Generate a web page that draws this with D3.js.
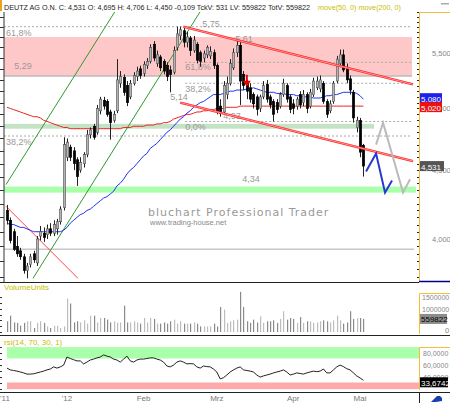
<!DOCTYPE html>
<html>
<head>
<meta charset="utf-8">
<script src="https://cdn.jsdelivr.net/npm/d3@7"></script>
<style>
body { margin: 0; background: #fff; }
svg { display: block; font-family: "Liberation Sans", Arial, sans-serif; }
</style>
</head>
<body>
<div id="chart"></div>
<script>
// daily candles, Deutz AG, late Nov 2011 .. early May 2012
var opens = [4.20,4.13,4.05,3.95,3.92,3.88,3.79,3.83,3.90,3.84,4.02,4.04,4.03,4.07,4.04,4.07,4.12,4.22,4.60,4.68,
  4.65,4.58,4.50,4.55,4.62,4.78,4.85,4.80,4.98,5.07,5.06,4.97,4.90,4.98,5.22,5.27,5.20,5.10,5.22,5.28,
  5.35,5.31,5.38,5.42,5.58,5.40,5.46,5.42,5.38,5.34,5.32,5.55,5.66,5.71,5.60,5.64,5.52,5.58,5.50,5.45,
  5.48,5.47,5.50,5.38,5.02,4.97,5.12,5.22,5.36,5.50,5.57,5.30,5.22,5.18,5.12,5.10,5.00,5.10,5.21,5.10,
  5.06,5.05,5.02,5.12,5.20,5.10,5.04,5.02,5.12,5.05,5.12,5.02,5.12,5.18,5.17,5.22,5.06,4.98,5.06,5.24,
  5.40,5.48,5.36,5.26,5.14,4.84,4.90,4.695];
var highs = [4.24,4.15,4.07,4.02,3.94,3.90,3.84,3.90,3.92,4.02,4.09,4.08,4.10,4.11,4.13,4.14,4.23,4.76,4.75,4.70,
  4.68,4.60,4.60,4.64,4.82,4.84,4.87,5.03,5.10,5.10,5.08,4.99,4.98,5.44,5.33,5.30,5.24,5.25,5.32,5.37,
  5.38,5.42,5.45,5.58,5.61,5.52,5.48,5.44,5.41,5.38,5.56,5.75,5.75,5.74,5.70,5.66,5.66,5.60,5.52,5.52,
  5.57,5.56,5.53,5.40,5.08,5.24,5.28,5.44,5.54,5.61,5.60,5.33,5.25,5.22,5.14,5.12,5.12,5.24,5.25,5.12,
  5.08,5.08,5.14,5.26,5.22,5.12,5.08,5.10,5.15,5.16,5.14,5.17,5.27,5.28,5.29,5.24,5.08,5.07,5.24,5.47,
  5.53,5.53,5.40,5.29,5.16,4.93,4.92,4.706];
var lows = [4.10,3.97,3.92,3.88,3.86,3.77,3.74,3.81,3.84,3.82,3.99,3.98,4.00,4.02,4.02,4.03,4.10,4.20,4.57,4.57,
  4.50,4.38,4.48,4.52,4.60,4.75,4.74,4.78,4.95,4.99,4.93,4.74,4.88,4.96,5.18,5.11,5.02,5.08,5.20,5.24,
  5.26,5.28,5.35,5.40,5.42,5.37,5.33,5.30,5.24,5.14,5.30,5.52,5.62,5.55,5.55,5.47,5.50,5.40,5.37,5.41,
  5.45,5.44,5.35,4.95,4.93,4.95,5.08,5.20,5.34,5.46,5.03,5.16,5.08,5.05,5.00,4.94,4.97,5.08,5.05,5.00,
  4.89,4.96,5.00,5.10,5.05,4.96,4.95,4.99,5.00,5.02,4.96,5.00,5.10,5.16,5.14,5.04,4.92,4.96,5.04,5.22,
  5.38,5.32,5.22,5.12,4.88,4.80,4.60,4.450];
var closes = [4.13,3.99,3.93,3.90,3.88,3.79,3.82,3.88,3.86,4.00,4.05,4.01,4.07,4.04,4.10,4.12,4.21,4.70,4.72,4.60,
  4.55,4.45,4.56,4.62,4.78,4.82,4.76,5.00,5.08,5.02,4.95,4.88,4.95,5.25,5.28,5.14,5.05,5.22,5.29,5.33,
  5.29,5.39,5.42,5.55,5.45,5.48,5.36,5.33,5.28,5.30,5.52,5.68,5.72,5.60,5.65,5.52,5.62,5.43,5.42,5.49,
  5.55,5.51,5.38,4.98,4.96,5.20,5.22,5.40,5.50,5.57,5.24,5.20,5.15,5.08,5.04,4.99,5.10,5.20,5.08,5.03,
  4.95,4.99,5.12,5.22,5.08,4.99,5.00,5.08,5.03,5.12,5.00,5.14,5.24,5.24,5.25,5.06,4.95,5.04,5.22,5.44,
  5.48,5.34,5.25,5.16,4.92,4.90,4.64,4.531];
// volume in millions of units
var volumes = [0.46,0.70,0.41,0.39,0.27,0.39,0.46,0.46,0.17,0.39,0.46,0.39,0.24,0.17,0.27,0.27,0.17,0.24,1.43,1.22,
  0.41,0.46,0.41,0.50,0.36,0.70,0.70,0.41,0.60,0.60,0.53,0.41,0.46,0.41,0.41,1.13,0.41,0.41,0.46,0.41,
  0.36,0.60,0.41,0.60,0.56,0.36,0.36,0.41,0.36,0.46,0.53,0.36,0.46,0.36,0.36,0.36,0.41,0.36,0.24,0.24,
  0.24,0.24,0.36,0.24,1.07,0.96,0.39,0.46,0.50,0.53,1.72,1.07,0.46,0.39,0.53,0.41,0.67,0.39,0.46,0.46,
  0.50,0.39,0.56,0.89,0.53,0.60,0.56,0.39,0.64,0.39,0.46,0.46,0.39,0.41,0.46,0.50,0.46,0.41,0.50,0.70,
  0.50,0.36,0.41,0.89,0.56,0.60,0.60,0.56];
var rsiValues = [54,51,50,49,47.5,46,44,44,44.5,46,47.5,49,51,52.5,56,54,56,59,72.5,70,
  68,66,66,61,64,67.5,69,71,72.5,76,74,72.5,69,67.5,64,69,74,66,64,67.5,
  69,69,70,71,71,69,67.5,64,57.5,56,59,64,66,64,61,61.5,61,56,54,57.5,
  56.5,56,52.5,47.5,36,38,42.5,47.5,51,54,56,51,50,49,47.5,42.5,39,41,42.5,44,
  46,47.5,49,51,47.5,42.5,44,46,45,44,46,47.5,49,48,49,52.5,46,46,51,56,
  59,56.5,53,51,46,41,37.5,33.67];
var ma50 = [4.11,4.10,4.10,4.09,4.08,4.08,4.07,4.06,4.05,4.05,4.05,4.05,4.05,4.05,4.05,4.05,4.05,4.06,4.08,4.11,
  4.13,4.15,4.17,4.18,4.20,4.21,4.23,4.25,4.27,4.29,4.30,4.32,4.34,4.38,4.40,4.43,4.47,4.50,4.52,4.55,
  4.58,4.61,4.63,4.67,4.69,4.71,4.74,4.77,4.80,4.82,4.85,4.88,4.91,4.93,4.96,4.98,5.01,5.03,5.05,5.06,
  5.08,5.10,5.12,5.12,5.12,5.13,5.14,5.15,5.15,5.16,5.16,5.16,5.17,5.17,5.18,5.17,5.16,5.15,5.14,5.14,
  5.14,5.13,5.13,5.13,5.12,5.12,5.12,5.11,5.11,5.10,5.10,5.10,5.09,5.09,5.09,5.10,5.11,5.11,5.12,5.12,
  5.13,5.14,5.14,5.14,5.14,5.13,5.11,5.08];
var ma200 = [5.01,5.00,4.99,4.98,4.97,4.96,4.95,4.94,4.93,4.93,4.92,4.90,4.89,4.88,4.87,4.86,4.85,4.84,4.84,4.83,
  4.83,4.83,4.83,4.83,4.83,4.83,4.83,4.83,4.83,4.83,4.83,4.83,4.83,4.83,4.83,4.84,4.84,4.84,4.85,4.85,
  4.85,4.85,4.86,4.86,4.86,4.87,4.87,4.88,4.88,4.89,4.91,4.92,4.93,4.94,4.95,4.95,4.96,4.97,4.97,4.98,
  4.98,4.99,4.99,5.00,5.00,5.00,5.01,5.01,5.01,5.01,5.02,5.02,5.02,5.02,5.02,5.02,5.02,5.02,5.02,5.02,
  5.02,5.02,5.02,5.02,5.02,5.02,5.02,5.02,5.02,5.02,5.02,5.02,5.02,5.02,5.02,5.02,5.02,5.02,5.02,5.02,
  5.02,5.02,5.02,5.02,5.02,5.02,5.02,5.02];

var monthPos = [-0.6, 18, 41, 63, 85.9, 106];
var monthLabels = ["'11", "'12", "Feb", "Mrz", "Apr", "Mai"];
var priceTicks = [4.0, 4.5, 5.0, 5.5];
var volTicks = [1.5, 1.0];
var rsiTicks = [80, 60, 40];

// drawn tools: [bar index, price] anchors
var greenLine1 = [[-0.3, 4.39], [32.4, 5.90]];
var greenLine2 = [[7.8, 3.74], [58, 5.90]];
var redFall = [[-0.3, 4.23], [21.3, 3.74]];
var chanTop = [[52.9, 5.75], [121.9, 5.21]];
var chanBot = [[52.0, 5.05], [121.9, 4.57]];
var grayZig = [[110.8, 4.70], [112.9, 4.88], [118.9, 4.33], [121.0, 4.43]];
var blueZig = [[107.8, 4.49], [110.8, 4.63], [113.5, 4.33], [115.6, 4.42]];

var width = 450, height = 403;
var svg = d3.select('#chart').append('svg')
    .attr('width', width)
    .attr('height', height);

// scales
var x = d3.scaleLinear().domain([0, 107]).range([7, 363.4]);
var y = d3.scaleLog().domain([4, 5.5]).range([239, 52.7]);
var yVol = d3.scaleLinear().domain([0, 1.5]).range([332, 297]);
var yRsi = d3.scaleLinear().domain([60, 80]).range([364.5, 352.5]);

var left = 4, right = 419;
var mainTop = 12, mainBot = 282;

svg.append('clipPath').attr('id', 'mainClip')
    .append('rect').attr('x', left).attr('y', mainTop)
    .attr('width', right - left).attr('height', mainBot - mainTop);

var main = svg.append('g').attr('clip-path', 'url(#mainClip)');

// bands
function band(lo, hi, i0, i1, fill) {
    main.append('rect')
        .attr('x', x(i0)).attr('width', x(i1) - x(i0))
        .attr('y', y(hi)).attr('height', y(lo) - y(hi))
        .attr('fill', fill);
}
band(5.285, 5.65, -0.9, 121.6, '#ffc8c8');
band(4.83, 4.87, -0.9, 110.2, '#c4e2c4');
band(4.33, 4.375, -0.9, 122.8, '#aaffaa');

function hline(p, i0, i1, color, w, dash) {
    main.append('line')
        .attr('x1', x(i0)).attr('x2', x(i1))
        .attr('y1', y(p)).attr('y2', y(p))
        .attr('stroke', color).attr('stroke-width', w)
        .attr('stroke-dasharray', dash || null);
}
hline(5.285, -0.9, 121.6, '#bbbbbb', 1.5);
hline(3.93, -0.9, 122.2, '#c8c8c8', 1.5);
hline(5.75, -0.9, 121.6, '#aaaaaa', 1, '2,2');
hline(4.77, -0.9, 121.6, '#aaaaaa', 1, '2,2');
hline(5.41, 53.5, 121.6, '#aaaaaa', 1, '2,2');
hline(5.22, 53.5, 121.6, '#aaaaaa', 1, '2,2');
hline(4.89, 53.5, 121.6, '#aaaaaa', 1, '2,2');

// level labels
var levelLabels = [
    { t: '61,8%', i: -0.3, p: 5.75, dy: 9 },
    { t: '38,2%', i: -0.3, p: 4.77, dy: 9 },
    { t: '5,29', i: 2.2, p: 5.285, dy: -7 },
    { t: '5,75', i: 58.6, p: 5.75, dy: 0 },
    { t: '61,8%', i: 53.5, p: 5.41, dy: 8 },
    { t: '38,2%', i: 53.5, p: 5.22, dy: 9 },
    { t: '0,0%', i: 53.5, p: 4.89, dy: 9 },
    { t: '5,61', i: 68.5, p: 5.61, dy: 1 },
    { t: '5,14', i: 49, p: 5.14, dy: 8 },
    { t: '4,93', i: 64.9, p: 4.93, dy: 2 },
    { t: '4,34', i: 70.6, p: 4.34, dy: -9 }
];
main.selectAll('text.lvl')
    .data(levelLabels)
    .enter()
    .append('text')
    .attr('class', 'lvl')
    .attr('x', function (d) { return x(d.i); })
    .attr('y', function (d) { return y(d.p) + d.dy; })
    .attr('font-size', 9)
    .attr('fill', '#999')
    .text(function (d) { return d.t; });

// watermark
svg.append('text').attr('x', 148).attr('y', 216)
    .attr('font-size', 11).attr('fill', '#999').attr('letter-spacing', 1)
    .attr('font-family', '"DejaVu Sans", sans-serif')
    .text('bluchart Professional Trader');
svg.append('text').attr('x', 150).attr('y', 225)
    .attr('font-size', 7.5).attr('fill', '#888')
    .text('www.trading-house.net');

var lineGen = d3.line()
    .x(function (d) { return x(d[0]); })
    .y(function (d) { return y(d[1]); });

// green channel
[greenLine1, greenLine2].forEach(function (l) {
    main.append('path').attr('d', lineGen(l))
        .attr('fill', 'none').attr('stroke', '#2e9a2e').attr('stroke-width', 1);
});
main.append('path').attr('d', lineGen(redFall))
    .attr('fill', 'none').attr('stroke', '#ff4444').attr('stroke-width', 1);

// moving averages
var maLine = d3.line()
    .x(function (d, i) { return x(i); })
    .y(function (d) { return y(d); });
main.append('path').attr('d', maLine(ma200))
    .attr('fill', 'none').attr('stroke', '#ee2222').attr('stroke-width', 1);
main.append('path').attr('d', maLine(ma50))
    .attr('fill', 'none').attr('stroke', '#2233ee').attr('stroke-width', 1);

// candles
var bars = d3.range(opens.length).map(function (i) {
    return { i: i, o: opens[i], h: highs[i], l: lows[i], c: closes[i], v: volumes[i] };
});
var bw = 2.4;
var cg = main.append('g');
cg.selectAll('line.wick')
    .data(bars)
    .enter()
    .append('line')
    .attr('class', 'wick')
    .attr('x1', function (d) { return Math.round(x(d.i)) + 0.5; })
    .attr('x2', function (d) { return Math.round(x(d.i)) + 0.5; })
    .attr('y1', function (d) { return y(d.h); })
    .attr('y2', function (d) { return y(d.l); })
    .attr('stroke', '#222').attr('stroke-width', 1);
cg.selectAll('rect.body')
    .data(bars)
    .enter()
    .append('rect')
    .attr('class', 'body')
    .attr('x', function (d) { return Math.round(x(d.i)) + 0.5 - bw / 2; })
    .attr('width', bw)
    .attr('y', function (d) { return y(Math.max(d.o, d.c)); })
    .attr('height', function (d) { return Math.max(1, Math.abs(y(d.o) - y(d.c))); })
    .attr('fill', function (d) { return d.c >= d.o ? '#b4b4b4' : '#000'; })
    .attr('stroke', function (d) { return d.c >= d.o ? '#555' : '#000'; })
    .attr('stroke-width', 0.6);

// red channel (double lines)
[chanTop, chanBot].forEach(function (l) {
    main.append('path').attr('d', lineGen(l))
        .attr('fill', 'none').attr('stroke', '#ff2020').attr('stroke-width', 2.3);
    main.append('path').attr('d', lineGen(l))
        .attr('fill', 'none').attr('stroke', '#ffe0e0').attr('stroke-width', 0.6);
});

// projections
main.append('path').attr('d', lineGen(grayZig))
    .attr('fill', 'none').attr('stroke', '#bbbbbb').attr('stroke-width', 2);
main.append('path').attr('d', lineGen(blueZig))
    .attr('fill', 'none').attr('stroke', '#2838d0').attr('stroke-width', 2);

// sell arrow
var ax = x(72), ay = y(5.19);
main.append('path')
    .attr('d', 'M' + (ax - 1) + ',' + (ay - 12) + 'h2v6h3l-4,6l-4,-6h3z')
    .attr('fill', '#ee0000');

// left axis
svg.append('line').attr('x1', left).attr('x2', left).attr('y1', mainTop).attr('y2', mainBot)
    .attr('stroke', '#333').attr('stroke-width', 1);
var leftTicks = d3.range(3.75, 5.95, 0.1);
svg.selectAll('line.ltick')
    .data(leftTicks)
    .enter()
    .append('line')
    .attr('class', 'ltick')
    .attr('x1', 0).attr('x2', left)
    .attr('y1', function (d) { return Math.round(y(d)) + 0.5; })
    .attr('y2', function (d) { return Math.round(y(d)) + 0.5; })
    .attr('stroke', '#333');

// right axis (main)
var axisCol = '#f2bd3a';
svg.append('line').attr('x1', 419.5).attr('x2', 419.5).attr('y1', mainTop).attr('y2', mainBot)
    .attr('stroke', axisCol);
svg.append('line').attr('x1', 419.5).attr('x2', 450).attr('y1', mainTop + 0.5).attr('y2', mainTop + 0.5)
    .attr('stroke', axisCol);
svg.append('line').attr('x1', 419).attr('x2', 450).attr('y1', 281.5).attr('y2', 281.5)
    .attr('stroke', '#000080').attr('stroke-width', 1.5);
var rTicks = d3.range(3.75, 5.95, 0.05);
svg.selectAll('line.rtick')
    .data(rTicks)
    .enter()
    .append('line')
    .attr('class', 'rtick')
    .attr('x1', 417).attr('x2', 419)
    .attr('y1', function (d) { return Math.round(y(d)) + 0.5; })
    .attr('y2', function (d) { return Math.round(y(d)) + 0.5; })
    .attr('stroke', '#222');
svg.selectAll('text.pt')
    .data(priceTicks)
    .enter()
    .append('text')
    .attr('class', 'pt')
    .attr('x', 432)
    .attr('y', function (d) { return y(d) + 3; })
    .attr('font-size', 7.5)
    .attr('fill', '#888')
    .text(function (d) { return d3.format('.3f')(d).replace('.', ','); });

function valueBox(yc, txt, bg, fg, x0, w) {
    svg.append('rect').attr('x', x0).attr('y', yc - 5).attr('width', w).attr('height', 10).attr('fill', bg);
    svg.append('text').attr('x', x0 + 1).attr('y', yc + 3.5)
        .attr('font-size', 8).attr('fill', fg).text(txt);
}
valueBox(y(ma50[107]) - 1, d3.format('.3f')(ma50[107]).replace('.', ','), '#2020ee', '#fff', 420, 22);
valueBox(y(ma200[107]) + 1, d3.format('.3f')(ma200[107]).replace('.', ','), '#ee1010', '#fff', 420, 22);
valueBox(y(closes[107]), '4,531', '#555', '#fff', 420, 24);

// title
svg.append('text').attr('x', 4).attr('y', 10).attr('font-size', 7.2).attr('fill', '#222')
    .attr('textLength', 306).attr('lengthAdjust', 'spacingAndGlyphs')
    .text('DEUTZ AG O.N. C: 4,531 O: 4,695 H: 4,706 L: 4,450 -0,109 TckV: 531 LV: 559822 TotV: 559822');
svg.append('text').attr('x', 318).attr('y', 10).attr('font-size', 7.6).attr('fill', '#c8c000')
    .attr('textLength', 83).attr('lengthAdjust', 'spacingAndGlyphs')
    .text('move(50, 0) move(200, 0)');
svg.append('rect').attr('x', 0).attr('y', 0).attr('width', 2).attr('height', 11).attr('fill', '#f0a020');
svg.append('rect').attr('x', 441).attr('y', 3).attr('width', 8).attr('height', 1.5).attr('fill', '#aaa');

// volume panel
svg.append('text').attr('x', 4).attr('y', 290).attr('font-size', 8).attr('fill', '#c8c000').text('VolumeUnits');
svg.selectAll('rect.vol')
    .data(bars)
    .enter()
    .append('rect')
    .attr('class', 'vol')
    .attr('x', function (d) { return Math.round(x(d.i)); })
    .attr('width', 1.2)
    .attr('y', function (d) { return yVol(d.v); })
    .attr('height', function (d) { return yVol(0) - yVol(d.v); })
    .attr('fill', function (d) { return d.c >= d.o ? '#bdbdbd' : '#8a8a8a'; });
svg.append('path').attr('d', 'M419.5,334V293.5H450').attr('fill', 'none').attr('stroke', axisCol);
svg.selectAll('text.vt')
    .data(volTicks)
    .enter()
    .append('text')
    .attr('class', 'vt')
    .attr('x', 422)
    .attr('y', function (d) { return yVol(d) + 3; })
    .attr('font-size', 7).attr('fill', '#888')
    .text(function (d) { return d3.format('d')(d * 1e6); });
svg.append('text').attr('x', 445).attr('y', 333).attr('font-size', 7.5).attr('fill', '#888').text('0');
valueBox(yVol(0.559822), '559822', '#8c8c8c', '#000', 420, 27);
svg.selectAll('line.vtick')
    .data(d3.range(0, 1.75, 0.25))
    .enter()
    .append('line')
    .attr('class', 'vtick')
    .attr('x1', 0).attr('x2', 2)
    .attr('y1', function (d) { return Math.round(yVol(d)) + 0.5; })
    .attr('y2', function (d) { return Math.round(yVol(d)) + 0.5; })
    .attr('stroke', '#333');

// rsi panel
svg.append('text').attr('x', 4).attr('y', 345).attr('font-size', 8).attr('fill', '#c8c000').text('rsi(14, 70, 30, 1)');
svg.append('rect').attr('x', 7).attr('width', 412)
    .attr('y', yRsi(89)).attr('height', yRsi(70) - yRsi(89)).attr('fill', '#aaffaa');
svg.append('rect').attr('x', 7).attr('width', 412)
    .attr('y', yRsi(30)).attr('height', yRsi(19) - yRsi(30)).attr('fill', '#ffaaaa');
var rsiLine = d3.line()
    .x(function (d, i) { return x(i); })
    .y(function (d) { return yRsi(d); });
svg.append('path').attr('d', rsiLine(rsiValues))
    .attr('fill', 'none').attr('stroke', '#222').attr('stroke-width', 1);
svg.append('path').attr('d', 'M419.5,390V347.5H450').attr('fill', 'none').attr('stroke', axisCol);
svg.selectAll('text.rt')
    .data(rsiTicks)
    .enter()
    .append('text')
    .attr('class', 'rt')
    .attr('x', 423)
    .attr('y', function (d) { return yRsi(d) + 3; })
    .attr('font-size', 7).attr('fill', '#888')
    .text(function (d) { return d3.format('.4f')(d).replace('.', ','); });
valueBox(yRsi(33.6742) + 2, '33,6742', '#000', '#fff', 420, 28);
svg.selectAll('line.rsitick')
    .data(d3.range(20, 100, 10))
    .enter()
    .append('line')
    .attr('class', 'rsitick')
    .attr('x1', 0).attr('x2', 2)
    .attr('y1', function (d) { return Math.round(yRsi(d)) + 0.5; })
    .attr('y2', function (d) { return Math.round(yRsi(d)) + 0.5; })
    .attr('stroke', '#333');

// panel separators
[282, 335, 392].forEach(function (yy) {
    svg.append('line').attr('x1', 0).attr('x2', yy === 282 ? 419 : 450)
        .attr('y1', yy + 0.5).attr('y2', yy + 0.5)
        .attr('stroke', '#222').attr('stroke-width', 1.2);
});
svg.append('line').attr('x1', 419.5).attr('x2', 419.5).attr('y1', 392).attr('y2', 403).attr('stroke', '#222');

// month labels
svg.selectAll('text.month')
    .data(monthLabels)
    .enter()
    .append('text')
    .attr('class', 'month')
    .attr('x', function (d, i) { return i === 0 ? 0 : x(monthPos[i]); })
    .attr('y', 401)
    .attr('text-anchor', function (d, i) { return i === 0 ? 'start' : 'middle'; })
    .attr('font-size', 8).attr('fill', '#777')
    .text(function (d) { return d; });

// corner icon
svg.append('path').attr('d', 'M431,402l6,-6l3,0l2,2l0,3l-6,1z').attr('fill', '#1a3fb0');
</script>
</body>
</html>
